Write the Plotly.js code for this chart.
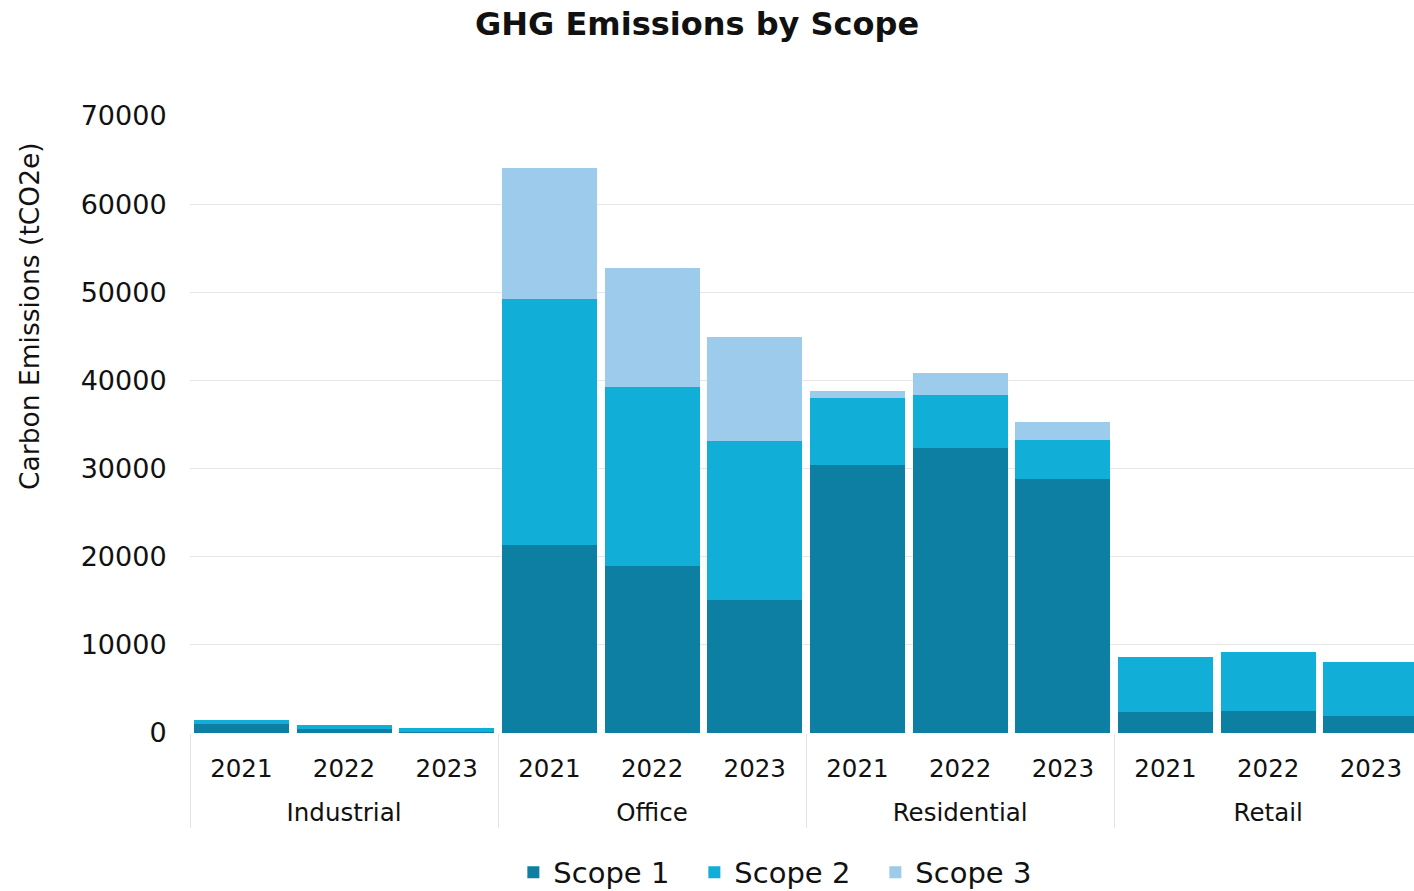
<!DOCTYPE html>
<html>
<head>
<meta charset="utf-8">
<script src="https://cdn.plot.ly/plotly-3.0.1.min.js"></script>
<style>html,body{margin:0;padding:0;background:#fff;}#chart{width:1414px;height:891px;}</style>
</head>
<body>
<div id="chart"></div>
<script>
const sectors = ["Industrial","Industrial","Industrial","Office","Office","Office","Residential","Residential","Residential","Retail","Retail","Retail"];
const years = ["2021","2022","2023","2021","2022","2023","2021","2022","2023","2021","2022","2023"];
const scope1 = [1000, 450, 150, 21330, 18950, 15090, 30410, 32300, 28820, 2350, 2500, 1930];
const scope2 = [480, 450, 380, 27910, 20340, 18040, 7560, 6050, 4420, 6240, 6730, 6160];
const scope3 = [0, 0, 0, 14860, 13470, 11800, 870, 2460, 2080, 0, 0, 0];
const seriesNames = ["Scope 1","Scope 2","Scope 3"];
const seriesColors = ["#0C7FA3","#11AED8","#9CCBEB"];
const yTicks = [0,10000,20000,30000,40000,50000,60000,70000];

const font = "'DejaVu Sans', sans-serif";
// leading line break pushes the group labels down one line, as in the reference
const groupLabels = sectors.map(s => "<br>" + s);
const data = [scope1, scope2, scope3].map((v, i) => ({
  type: "bar",
  name: seriesNames[i],
  x: [groupLabels, years],
  y: v,
  marker: {color: seriesColors[i], line: {width: 0}},
  hoverinfo: "y+name"
}));

const layout = {
  width: 1414, height: 891,
  paper_bgcolor: "#fff", plot_bgcolor: "#fff",
  barmode: "stack",
  bargap: 0.075,
  margin: {l: 190, r: 0, t: 116, b: 158},
  title: {text: "GHG Emissions by Scope", x: 0.493, xanchor: "center", y: 0.973, yanchor: "middle",
          font: {family: font, size: 32, color: "#111", weight: 600}},
  font: {family: font, color: "#111"},
  xaxis: {
    type: "multicategory",
    range: [-0.5, 11.42],
    tickfont: {family: font, size: 24.5, color: "#111"},
    showdividers: true, dividercolor: "#e3e3e3", dividerwidth: 1,
    showgrid: false, zeroline: false, showline: false,
    ticks: "", ticklabelstandoff: 18
  },
  yaxis: {
    range: [0, 70000],
    tickvals: yTicks,
    ticktext: yTicks.map(String),
    tickfont: {family: font, size: 27, color: "#111"},
    gridcolor: "#e6e6e6", gridwidth: 1,
    zeroline: false, showline: false,
    ticks: "outside", ticklen: 17, tickcolor: "rgba(0,0,0,0)"
  },
  annotations: [{
    text: "Carbon Emissions (tCO2e)",
    xref: "paper", yref: "paper",
    x: -0.1307, y: 0.676, xanchor: "center", yanchor: "middle",
    textangle: -90, showarrow: false,
    font: {family: font, size: 26.5, color: "#111", weight: 500}
  }],
  legend: {
    orientation: "h", x: 0.486, xanchor: "center", xref: "paper",
    y: 0.021, yref: "container", yanchor: "middle",
    font: {family: font, size: 29, color: "#111"},
    traceorder: "normal", itemwidth: 30,
    entrywidth: 136, entrywidthmode: "pixels"
  },
  showlegend: true
};

Plotly.newPlot("chart", data, layout, {displayModeBar: false, staticPlot: true});
</script>
</body>
</html>
